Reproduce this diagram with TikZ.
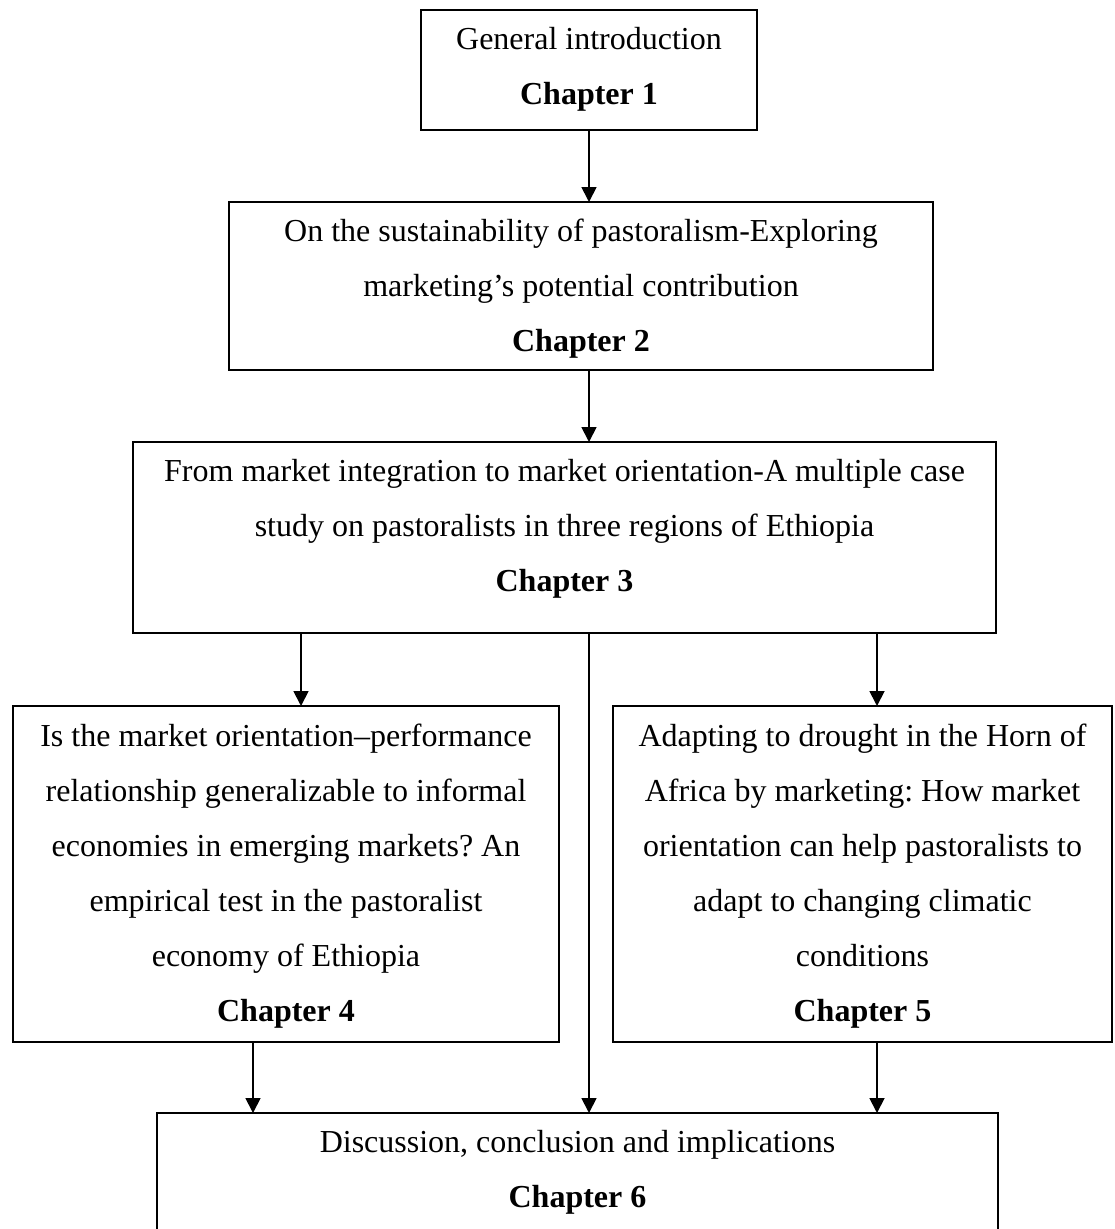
\documentclass[tikz,border=0pt]{standalone}
\usepackage{fontspec}
\setmainfont{Liberation Serif}
\usetikzlibrary{arrows.meta}
\frenchspacing
\begin{document}
\begin{tikzpicture}[x=1pt,y=-1pt,
  box/.style={draw, line width=1.8pt, inner sep=0pt, outer sep=0pt},
  txt/.style={align=center, inner sep=0pt, font=\fontsize{32}{55}\selectfont},
  arr/.style={line width=1.8pt, -{Triangle[width=15pt,length=15pt]}}]

% page area
\fill[white] (0,0) rectangle (1114,1229);
\useasboundingbox (0,0) rectangle (1114,1229);

% frames of the six chapters
\node[box, minimum width=336pt, minimum height=120pt] (b1) at (589,70) {};
\node[box, minimum width=704pt, minimum height=168pt] (b2) at (581,286) {};
\node[box, minimum width=863pt, minimum height=191pt] (b3) at (564.5,537.5) {};
\node[box, minimum width=546pt, minimum height=336pt] (b4) at (286,874) {};
\node[box, minimum width=499pt, minimum height=336pt] (b5) at (862.5,874) {};
\node[box, minimum width=841pt, minimum height=118pt] (b6) at (577.5,1172) {};

% chapter titles
\node[txt] (t1) at (589,69.5) {General introduction\\\textbf{Chapter 1}};
\node[txt] (t2) at (581,288.5) {On the sustainability of pastoralism-Exploring\\marketing’s potential contribution\\\textbf{Chapter 2}};
\node[txt] (t3) at (564.5,528.5) {From market integration to market orientation-A multiple case\\study on pastoralists in three regions of Ethiopia\\\textbf{Chapter 3}};
\node[txt] (t4) at (286,876) {Is the market orientation–performance\\relationship generalizable to informal\\economies in emerging markets? An\\empirical test in the pastoralist\\economy of Ethiopia\\\textbf{Chapter 4}};
\node[txt] (t5) at (862.5,876) {Adapting to drought in the Horn of\\Africa by marketing: How market\\orientation can help pastoralists to\\adapt to changing climatic\\conditions\\\textbf{Chapter 5}};
\node[txt] (t6) at (577.5,1172.5) {Discussion, conclusion and implications\\\textbf{Chapter 6}};

% columns used by the vertical connectors
\coordinate (xa) at (589,0);
\coordinate (xb) at (301,0);
\coordinate (xc) at (877,0);
\coordinate (xd) at (253,0);

% connectors
\draw[arr] (b1.south -| xa) -- (b2.north -| xa);
\draw[arr] (b2.south -| xa) -- (b3.north -| xa);
\draw[arr] (b3.south -| xb) -- (b4.north -| xb);
\draw[arr] (b3.south -| xa) -- (b6.north -| xa);
\draw[arr] (b3.south -| xc) -- (b5.north -| xc);
\draw[arr] (b4.south -| xd) -- (b6.north -| xd);
\draw[arr] (b5.south -| xc) -- (b6.north -| xc);
\end{tikzpicture}
\end{document}
